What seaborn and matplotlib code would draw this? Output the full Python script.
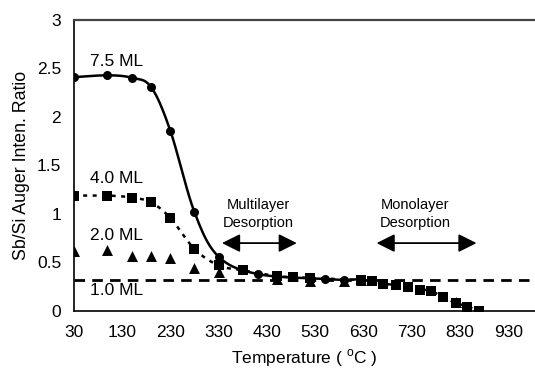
import numpy as np
import pandas as pd
import matplotlib
matplotlib.use("Agg")
import matplotlib.pyplot as plt
import seaborn as sns

# ---- data ----
t_75 = [30, 100, 150, 190, 230, 280, 330, 412, 550, 590, 625]
r_75 = [2.41, 2.43, 2.405, 2.31, 1.86, 1.02, 0.56, 0.38, 0.33, 0.32, 0.33]

t_40 = [30, 100, 150, 190, 230, 280, 330, 380, 450, 485, 520, 625, 647, 671, 697, 723, 747, 769, 795, 821, 845, 869]
r_40 = [1.19, 1.19, 1.17, 1.12, 0.96, 0.64, 0.47, 0.42, 0.36, 0.35, 0.34, 0.32, 0.31, 0.28, 0.27, 0.25, 0.22, 0.21, 0.14, 0.085, 0.045, 0.005]

t_20 = [30, 100, 150, 190, 230, 280, 330, 450, 520, 590, 625, 821]
r_20 = [0.62, 0.63, 0.57, 0.57, 0.55, 0.44, 0.40, 0.33, 0.31, 0.31, 0.32, 0.09]

level_10 = 0.32

series_labels = ["7.5 ML", "4.0 ML", "2.0 ML", "1.0 ML"]
label_pos_t = 119
label_pos_r = [2.57, 1.37, 0.78, 0.21]

x_ticks = list(range(30, 931, 100))
y_ticks = [0, 0.5, 1, 1.5, 2, 2.5, 3]


def smooth(xs, ys, n=20):
    xs = np.asarray(xs, float); ys = np.asarray(ys, float)
    P = np.column_stack([xs, ys])
    out = [P[0]]
    for i in range(len(P) - 1):
        p0 = P[i - 1] if i > 0 else P[i]
        p1 = P[i]
        p2 = P[i + 1]
        p3 = P[i + 2] if i + 2 < len(P) else P[i + 1]
        c1 = p1 + (p2 - p0) / 6.0
        c2 = p2 - (p3 - p1) / 6.0
        s = np.linspace(0, 1, n)[1:, None]
        b = ((1 - s) ** 3) * p1 + 3 * ((1 - s) ** 2) * s * c1 + 3 * (1 - s) * s ** 2 * c2 + s ** 3 * p2
        out.extend(b)
    out = np.array(out)
    return pd.DataFrame({"t": out[:, 0], "r": out[:, 1]})


sns.set_style("white")
plt.rcParams["font.family"] = ["Liberation Sans", "DejaVu Sans"]
plt.rcParams["text.color"] = "black"
plt.rcParams["axes.labelcolor"] = "black"
plt.rcParams["xtick.color"] = "black"
plt.rcParams["ytick.color"] = "black"

fig = plt.figure(figsize=(5.35, 3.69), dpi=100)
ax = fig.add_axes([0.1377, 0.1572, 0.8623, 0.7886])

# 1.0 ML dashed line
ax.axhline(level_10, color="black", lw=2.0, linestyle=(0, (3.8, 2.6)), zorder=1)

# 4.0 ML dotted smooth line
sns.lineplot(data=smooth(t_40, r_40), x="t", y="r", sort=False, estimator=None,
             color="black", lw=1.8, linestyle=(0, (1.6, 2.2)), ax=ax, zorder=2)
# 7.5 ML solid smooth line
sns.lineplot(data=smooth(t_75, r_75), x="t", y="r", sort=False, estimator=None,
             color="black", lw=1.8, ax=ax, zorder=2)

sns.scatterplot(x=t_20, y=r_20, marker="^", s=62, color="black", edgecolor="black", linewidth=0, ax=ax, zorder=3)
sns.scatterplot(x=t_40, y=r_40, marker="s", s=44, color="black", edgecolor="black", linewidth=0, ax=ax, zorder=4)
sns.scatterplot(x=t_75, y=r_75, marker="o", s=42, color="black", edgecolor="black", linewidth=0, ax=ax, zorder=5)

for lab, yy in zip(series_labels, label_pos_r):
    ax.text(label_pos_t, yy, lab, ha="center", va="center", fontsize=12.5, color="black")

ax.text(412, 1.0, "Multilayer\nDesorption", ha="center", va="center", fontsize=10.5, linespacing=1.35, color="black")
ax.text(737, 1.0, "Monolayer\nDesorption", ha="center", va="center", fontsize=10.5, linespacing=1.35, color="black")
for x0, x1 in [(337, 492), (657, 864)]:
    ax.annotate("", xy=(x1, 0.70), xytext=(x0, 0.70),
                arrowprops=dict(arrowstyle="<|-|>,head_length=1.1,head_width=0.55",
                                color="black", lw=1.3, shrinkA=0, shrinkB=0))

ax.set_xlim(30, 985)
ax.set_ylim(0, 3)
ax.set_xticks(x_ticks)
ax.set_xticks(list(range(80, 981, 100)), minor=True)
ax.set_yticks(y_ticks)
ax.set_yticks(np.arange(0, 3.01, 0.1), minor=True)
ax.set_yticklabels(["0", "0.5", "1", "1.5", "2", "2.5", "3"])
ax.tick_params(axis="both", which="both", direction="in", length=4, width=1, colors="black", labelsize=12.5)
ax.tick_params(axis="x", which="both", pad=10)
ax.tick_params(axis="y", which="both", pad=9)

ax.set_xlabel("Temperature ( $^{\\mathregular{o}}$C )", fontsize=12.5, labelpad=5, color="black")
ax.set_ylabel("Sb/Si Auger Inten. Ratio", fontsize=12.8, labelpad=5, color="black")

for side in ["left", "bottom"]:
    ax.spines[side].set_color("black")
    ax.spines[side].set_linewidth(1.2)
ax.spines["right"].set_visible(False)
ax.spines["top"].set_visible(True)
ax.spines["top"].set_color("#444444")
ax.spines["top"].set_linewidth(1.6)

fig.savefig("out.png", dpi=100)
